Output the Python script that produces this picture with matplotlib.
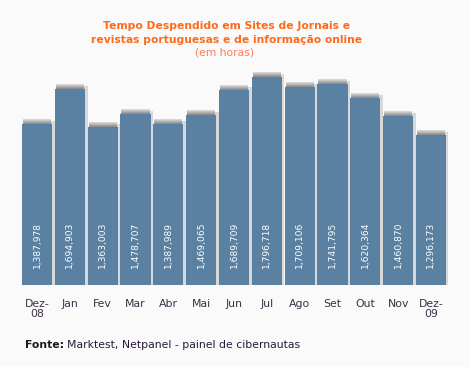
import matplotlib
matplotlib.use("Agg")
import matplotlib.pyplot as plt

months = ["Dez-\n08", "Jan", "Fev", "Mar", "Abr", "Mai", "Jun", "Jul", "Ago", "Set", "Out", "Nov", "Dez-\n09"]
values = [1387978, 1694903, 1363003, 1478707, 1387989, 1469065, 1689709,
          1796718, 1709106, 1741795, 1620364, 1460870, 1296173]
value_labels = ["1,387,978", "1,694,903", "1,363,003", "1,478,707", "1,387,989", "1,469,065",
                "1,689,709", "1,796,718", "1,709,106", "1,741,795", "1,620,364", "1,460,870", "1,296,173"]

W, H = 470, 367
fig = plt.figure(figsize=(W / 100, H / 100), dpi=100, facecolor="#FAFAFA")

left_px, right_px = 22, 446
bottom_px, top_px = 285, 60
ax = fig.add_axes([left_px / W, (H - bottom_px) / H, (right_px - left_px) / W, (bottom_px - top_px) / H])
ax.set_facecolor("none")
px_per_unit = 196 / 1694903
ymax = (bottom_px - top_px) / px_per_unit
ax.set_ylim(0, ymax)
bw = 0.92
ax.set_xlim(-bw / 2, len(values) - 1 + bw / 2)
slot_px = (right_px - left_px) / (len(values) - 1 + bw)
xunit = 1 / slot_px
yunit = 1 / px_per_unit

x = list(range(len(values)))
ax.bar([xi + 2.5 * xunit for xi in x], [v + 3 * yunit for v in values], width=bw,
       color="#D8D8D8", zorder=1, clip_on=False, linewidth=0)
for k, c in enumerate(["#8E8E8E", "#A0A0A0", "#B2B2B2", "#C4C4C4", "#D6D6D6"]):
    ax.bar(x, [yunit] * len(values), bottom=[v + k * yunit for v in values], width=bw - 2 * xunit,
           color=c, zorder=2, clip_on=False, linewidth=0)
ax.bar(x, values, width=bw, color="#5A80A2", zorder=3, linewidth=0)

for xi, lab in zip(x, value_labels):
    ax.text(xi, 17 * yunit, lab, rotation=90, ha="center", va="bottom", color="white",
            fontsize=6.6, zorder=4)

ax.set_xticks(x)
ax.set_xticklabels(months, fontsize=7.8, color="#3A3045", linespacing=1.0)
ax.tick_params(axis="x", length=0, pad=10)
ax.set_yticks([])
for s in ax.spines.values():
    s.set_visible(False)

fig.text(226.5 / W, 1 - 26 / H, "Tempo Despendido em Sites de Jornais e", ha="center", va="center",
         fontsize=7.75, fontweight="bold", color="#FF6A1A")
fig.text(226.5 / W, 1 - 40 / H, "revistas portuguesas e de informação online", ha="center", va="center",
         fontsize=7.75, fontweight="bold", color="#FF6A1A")
fig.text(225 / W, 1 - 52.5 / H, "(em horas)", ha="center", va="center",
         fontsize=7.75, color="#FF7A5A")

t1 = fig.text(25 / W, 1 - 345 / H, "Fonte:", ha="left", va="center", fontsize=7.8,
              fontweight="bold", color="#1A1A1A")
fig.canvas.draw()
bb = t1.get_window_extent()
fig.text((bb.x1 + 3) / W, 1 - 345 / H, "Marktest, Netpanel - painel de cibernautas", ha="left",
         va="center", fontsize=7.8, color="#2A1A3A")

fig.savefig("out.png", dpi=100, facecolor=fig.get_facecolor())
